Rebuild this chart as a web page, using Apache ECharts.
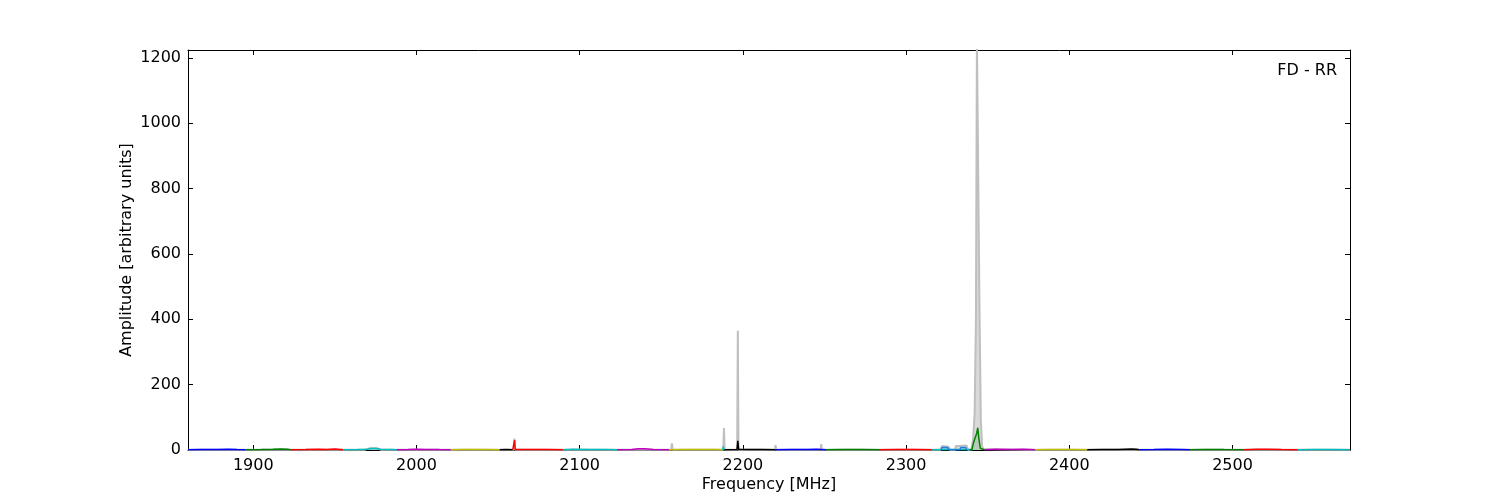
<!DOCTYPE html>
<html>
<head>
<meta charset="utf-8">
<script src="https://cdn.jsdelivr.net/npm/echarts@6/dist/echarts.min.js"></script>
<style>html,body{margin:0;padding:0;background:#fff;}#c{width:1500px;height:500px;}</style>
</head>
<body>
<div id="c"></div>
<script>
// ---- axis ticks ----
const xTicks = [1900, 2000, 2100, 2200, 2300, 2400, 2500];
const yTicks = [0, 200, 400, 600, 800, 1000, 1200];

// ---- gray max-hold spectrum [MHz, amplitude] ----
const graySpectrum = [
  [1860,1],[1968,1],[1971,5],[1976,6],[1978,1],[2059.6,1],[2060,35],[2060.5,1],
  [2156,0.5],[2156.5,20],[2157,0.5],[2183,0.5],[2183.5,6],[2184,0.5],
  [2188,0.5],[2188.4,67],[2188.8,0.5],[2196.5,0.5],[2196.9,365],[2197.3,0.5],
  [2219.6,0.5],[2220,15],[2220.4,0.5],[2247.6,0.5],[2248,18],[2248.4,0.5],
  [2321,0.5],[2322,12],[2326,10],[2327,0.5],[2330,0.5],[2330.5,12],[2333,12],[2334,15],[2337,14],[2338,0.5],
  [2340,2],[2341,30],[2342,110],[2342.8,400],[2343.4,1260],[2344.3,1260],[2345,420],[2345.8,90],[2346.6,10],[2347.5,3],
  [2356,2],[2375.5,1],[2376,5],[2376.5,1],[2572,1]
];

// ---- coloured band segments [MHz, amplitude] ----
const seg01Blue    = [[1860,1.0],[1868,1.2],[1878,1.4],[1885,2.0],[1890,1.3],[1895,1.0]];
const seg02Green   = [[1895,1.0],[1905,1.3],[1912,2.0],[1917,3.0],[1921,2.0],[1923,1.0]];
const seg03Red     = [[1923,1.0],[1932,1.4],[1940,2.2],[1945,1.5],[1950,3.0],[1955,1.0]];
const seg04Cyan    = [[1955,1.0],[1964,1.5],[1970,2.0],[1972,4.5],[1975,4.5],[1978,2.0],[1984,1.5],[1988,1.0]];
const seg05Magenta = [[1988,1.0],[1995,1.5],[2000,2.5],[2005,1.5],[2014,1.2],[2021,1.0]];
const seg06Yellow  = [[2021,1.0],[2030,1.2],[2040,1.3],[2051,1.0]];
const seg07Black   = [[2051,1.0],[2055,1.2],[2059,1.0]];
const seg08Red     = [[2059,1.0],[2059.8,1.0],[2060.1,30],[2060.5,1.5],[2070,1.5],[2080,1.8],[2090,1.0]];
const seg09Cyan    = [[2090,1.0],[2096,2.0],[2105,1.5],[2115,1.3],[2123,1.0]];
const seg10Magenta = [[2123,1.0],[2132,1.5],[2136,3.5],[2140,3.5],[2145,1.5],[2155,1.0]];
const seg11Yellow  = [[2155,1.0],[2165,1.2],[2175,1.4],[2183,1.5],[2188,1.0]];
const seg12Black   = [[2188,1.0],[2196.4,1.5],[2196.9,28],[2197.4,2.0],[2205,1.5],[2212,1.3],[2220,1.0]];
const seg13Blue    = [[2220,1.0],[2230,1.2],[2240,1.5],[2245,2.0],[2251,1.0]];
const seg14Green   = [[2251,1.0],[2262,1.3],[2272,1.5],[2284,1.0]];
const seg15Red     = [[2284,1.0],[2295,1.5],[2305,1.8],[2316,1.0]];
const seg16Cyan    = [[2316,1.0],[2325,1.2],[2335,1.3],[2341,1.0]];
const seg17Magenta = [[2348,1.0],[2355,2.0],[2365,1.8],[2372,2.2],[2379,1.0]];
const seg18Yellow  = [[2379,1.0],[2390,1.3],[2400,1.5],[2411,1.0]];
const seg19Black   = [[2411,1.0],[2420,1.3],[2430,1.5],[2438,3.0],[2441,2.0],[2443,1.0]];
const seg20Blue    = [[2443,1.0],[2452,1.5],[2460,2.0],[2468,1.5],[2474,1.0]];
const seg21Green   = [[2474,1.0],[2483,1.8],[2495,1.3],[2507,1.0]];
const seg22Red     = [[2507,1.0],[2515,2.0],[2522,2.5],[2530,1.5],[2540,1.0]];
const seg23Cyan    = [[2540,1.0],[2550,1.3],[2560,1.2],[2572,1.0]];

// ---- extra narrow features ----
const cyanSpike  = [[2187.6,0.5],[2188,10],[2188.4,0.5]];
const blueBumps  = [[2321.5,0.5],[2322,8],[2325.5,8],[2326,0.5],[2333,0.5],[2333.5,8],[2336.5,8],[2337,0.5]];
const greenPeak  = [[2339,0.5],[2340.3,1],[2341.4,24],[2342,30],[2342.6,27],[2343.3,52],[2343.9,68],[2344.6,35],[2345.5,5],[2346.2,1],[2348,1]];

const C = {b:'#0000ff', g:'#008000', r:'#ff0000', c:'#00bfbf', m:'#bf00bf', y:'#bfbf00', k:'#000000'};
const segments = [
  [seg01Blue,C.b],[seg02Green,C.g],[seg03Red,C.r],[seg04Cyan,C.c],[seg05Magenta,C.m],[seg06Yellow,C.y],
  [seg07Black,C.k],[seg08Red,C.r],[seg09Cyan,C.c],[seg10Magenta,C.m],[seg11Yellow,C.y],[seg12Black,C.k],
  [seg13Blue,C.b],[seg14Green,C.g],[seg15Red,C.r],[seg16Cyan,C.c],[seg17Magenta,C.m],[seg18Yellow,C.y],
  [seg19Black,C.k],[seg20Blue,C.b],[seg21Green,C.g],[seg22Red,C.r],[seg23Cyan,C.c],
  [cyanSpike,C.c],[blueBumps,'#1e7fe0'],[greenPeak,C.g]
];

const FONT = 'DejaVu Sans';
const series = [{
  type:'line', data: graySpectrum, xAxisIndex:0, yAxisIndex:0,
  symbol:'none', lineStyle:{color:'#bfbfbf', width:2}, areaStyle:{color:'#bfbfbf', opacity:0.6},
  z:2, animation:false, silent:true, clip:true
}];
segments.forEach(([d,col]) => {
  series.push({
    type:'line', data:d, xAxisIndex:0, yAxisIndex:0, symbol:'none',
    lineStyle:{color:col, width:1.5}, areaStyle:{color:col, opacity:0.15},
    z:3, animation:false, silent:true, clip:true
  });
});

const plain = v => String(v);

function xAx(pos, showLabel) {
  return {
    type:'value', position:pos, min:1860, max:2572,
    axisLine:{show:true, onZero:false, lineStyle:{color:'#000', width:1}},
    axisTick:{show:true, inside:true, length:5, customValues:xTicks, lineStyle:{color:'#000'}},
    axisLabel:{show:showLabel, customValues:xTicks, formatter:plain, color:'#000', fontFamily:FONT, fontSize:16, margin:8},
    splitLine:{show:false},
    name: showLabel ? 'Frequency [MHz]' : '', nameLocation:'middle', nameGap:27, nameMoveOverlap:false,
    nameTextStyle:{color:'#000', fontFamily:FONT, fontSize:16}
  };
}
function yAx(pos, showLabel) {
  return {
    type:'value', position:pos, min:0, max:1224,
    axisLine:{show:true, onZero:false, lineStyle:{color:'#000', width:1}},
    axisTick:{show:true, inside:true, length:5, customValues:yTicks, lineStyle:{color:'#000'}},
    axisLabel:{show:showLabel, customValues:yTicks, formatter:plain, color:'#000', fontFamily:FONT, fontSize:16, margin:7},
    splitLine:{show:false},
    name: showLabel ? 'Amplitude [arbitrary units]' : '', nameLocation:'middle', nameGap:53, nameMoveOverlap:false,
    nameTextStyle:{color:'#000', fontFamily:FONT, fontSize:16}
  };
}

const chart = echarts.init(document.getElementById('c'), null, {renderer:'canvas'});
chart.setOption({
  backgroundColor:'#fff',
  animation:false,
  title:{text:'FD - RR', right:163, top:63, padding:0,
    textStyle:{color:'#000', fontFamily:FONT, fontSize:16, fontWeight:'normal'}},
  grid:{left:188, right:150, top:50, bottom:50, containLabel:false},
  xAxis:[xAx('bottom', true), xAx('top', false)],
  yAxis:[yAx('left', true), yAx('right', false)],
  series: series
});
</script>
</body>
</html>
